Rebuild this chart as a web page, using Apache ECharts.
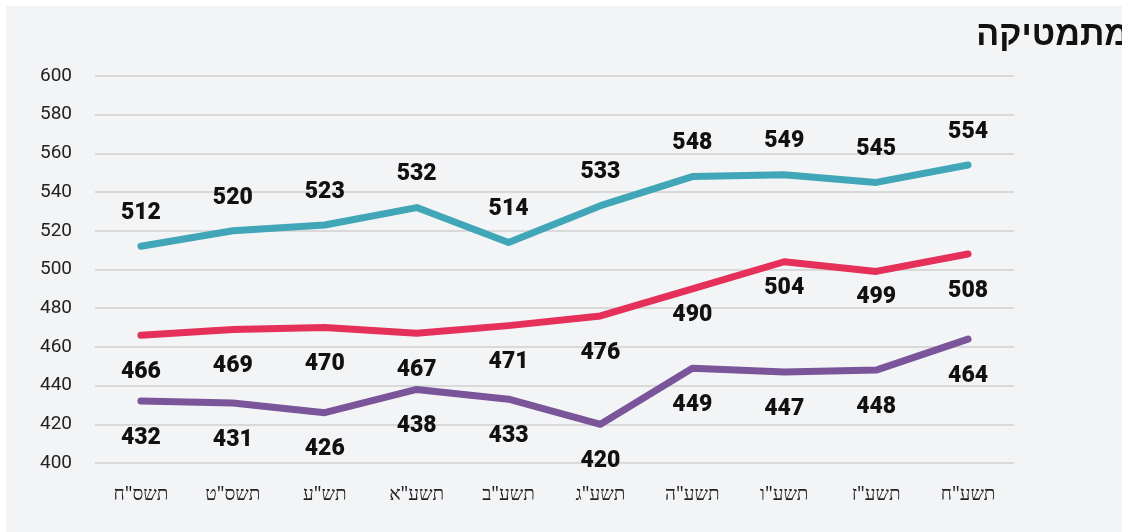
<!DOCTYPE html>
<html>
<head>
<meta charset="utf-8">
<script src="https://cdn.jsdelivr.net/npm/echarts@6/dist/echarts.min.js"></script>
<style>
  html, body { margin: 0; padding: 0; background: #fff; }
  #chart { position: absolute; left: 6px; top: 6px; width: 1116px; height: 526px; }
</style>
</head>
<body>
<div id="chart"></div>
<script>
// שנים
var years = ['תשס"ח', 'תשס"ט', 'תש"ע', 'תשע"א', 'תשע"ב', 'תשע"ג', 'תשע"ה', 'תשע"ו', 'תשע"ז', 'תשע"ח'];
var tealValues = [512, 520, 523, 532, 514, 533, 548, 549, 545, 554];
var redValues = [466, 469, 470, 467, 471, 476, 490, 504, 499, 508];
var purpleValues = [432, 431, 426, 438, 433, 420, 449, 447, 448, 464];

var myChart = echarts.init(document.getElementById('chart'));

// some labels sit a bit closer to the line in the original
function lineSeries(values, color, pos, closer) {
  return {
    type: 'line',
    data: values.map(function (v, i) {
      if (closer && closer.indexOf(i) >= 0) {
        return { value: v, label: { distance: 14 } };
      }
      return v;
    }),
    symbol: 'circle',
    symbolSize: 1,
    showSymbol: true,
    lineStyle: { color: color, width: 7, cap: 'round', join: 'round' },
    itemStyle: { color: color },
    label: {
      show: true,
      position: pos,
      distance: pos === 'top' ? 21 : 25,
      color: '#111',
      fontFamily: 'Roboto',
      fontWeight: 900,
      fontSize: 23
    }
  };
}

var option = {
  backgroundColor: '#f3f4f6',
  animation: false,
  title: {
    text: 'מתמטיקה',
    right: -12,
    top: 8,
    textStyle: { fontFamily: 'Liberation Sans', fontWeight: 'bold', fontSize: 34, color: '#111' }
  },
  grid: { left: 89, right: 108, top: 70, bottom: 69 },
  xAxis: {
    type: 'category',
    data: years,
    boundaryGap: true,
    axisLine: { show: false },
    axisTick: { show: false },
    axisLabel: { color: '#222', fontFamily: 'Noto Sans', fontSize: 19, margin: 22 }
  },
  yAxis: {
    type: 'value',
    min: 400,
    max: 600,
    interval: 20,
    axisLine: { show: false },
    axisTick: { show: false },
    axisLabel: { color: '#222', fontFamily: 'Roboto', fontSize: 19, margin: 23 },
    splitLine: { lineStyle: { color: '#d9d9d9', width: 2 } }
  },
  series: [
    lineSeries(tealValues, '#41a6b8', 'top'),
    lineSeries(redValues, '#e5305a', 'bottom', [6, 7, 8]),
    lineSeries(purpleValues, '#7a559a', 'bottom')
  ]
};

myChart.setOption(option);
</script>
</body>
</html>
